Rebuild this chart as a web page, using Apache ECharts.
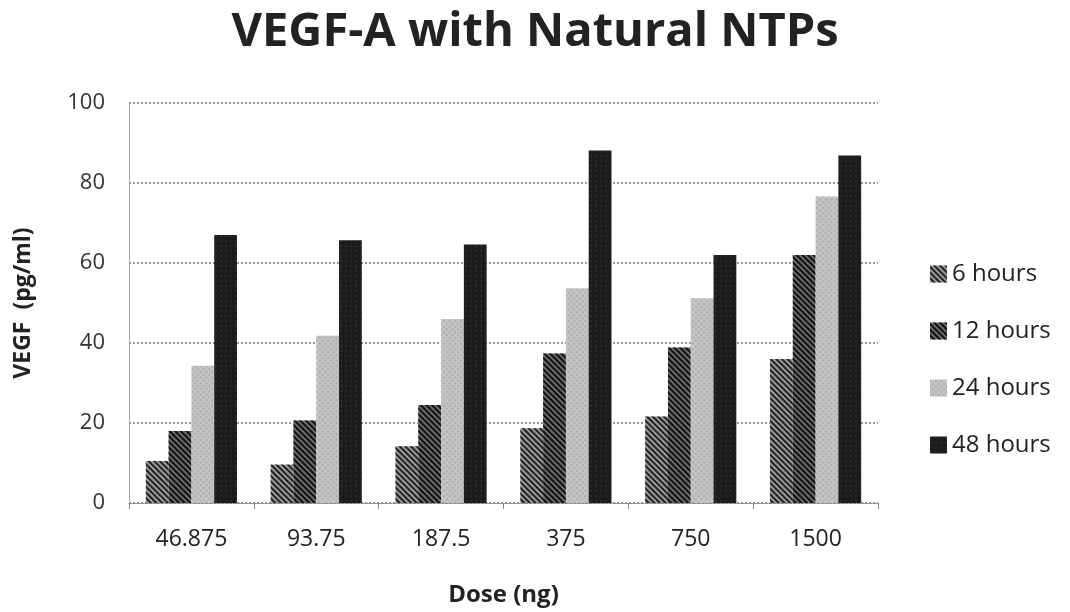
<!DOCTYPE html>
<html>
<head>
<meta charset="utf-8">
<script src="https://cdn.jsdelivr.net/npm/echarts@6/dist/echarts.min.js"></script>
<style>
  html, body {margin: 0; padding: 0; background: #fff;}
  #chart {width: 1070px; height: 612px;}
</style>
</head>
<body>
<div id="chart"></div>
<script>
var doses = ['46.875', '93.75', '187.5', '375', '750', '1500'];
var hours6 = [10.5, 9.6, 14.2, 18.7, 21.6, 36.0];
var hours12 = [18.0, 20.6, 24.5, 37.4, 38.9, 62.0];
var hours24 = [34.3, 41.8, 46.0, 53.7, 51.2, 76.6];
var hours48 = [67.0, 65.7, 64.6, 88.1, 62.0, 86.9];
var y_ticks = [0, 20, 40, 60, 80, 100];

var font = "'Open Sans', sans-serif";

function stripes(col, gap) {
    return {
        symbol: 'rect', symbolSize: 1, color: col,
        dashArrayX: [1, 0], dashArrayY: [2, gap], rotation: Math.PI / 4
    };
}

var series = [
    {name: '6 hours', data: hours6, color: '#9a9a9a', decal: stripes('#222', 2)},
    {name: '12 hours', data: hours12, color: '#6a6a6a', decal: stripes('#111', 2)},
    {name: '24 hours', data: hours24, color: '#c4c4c4', decal: {symbol: 'rect', symbolSize: 0.6, color: '#777', dashArrayX: [2, 2], dashArrayY: [2, 2], rotation: Math.PI / 4}},
    {name: '48 hours', data: hours48, color: '#1c1c1c', decal: {symbol: 'rect', symbolSize: 0.5, color: '#555', dashArrayX: [2, 3], dashArrayY: [2, 3], rotation: 0}}
].map(s => ({
    name: s.name, type: 'bar', data: s.data,
    barGap: '0%', barCategoryGap: '27%',
    itemStyle: {color: s.color, decal: s.decal}
}));

var chart = echarts.init(document.getElementById('chart'));
chart.setOption({
    animation: false,
    title: {
        text: 'VEGF-A with Natural NTPs', left: 'center', top: 4,
        textStyle: {fontFamily: font, fontSize: 47, fontWeight: 'bold', color: '#222'}
    },
    legend: {
        orient: 'vertical', left: 925, top: 257, itemGap: 33,
        itemWidth: 17, itemHeight: 17, icon: 'rect',
        textStyle: {fontFamily: font, fontSize: 24, color: '#222'},
        data: series.map(s => s.name)
    },
    grid: {left: 129, right: 192, top: 103, bottom: 108, containLabel: false},
    xAxis: {
        type: 'category', data: doses,
        name: 'Dose (ng)', nameLocation: 'middle', nameGap: 80,
        nameTextStyle: {fontFamily: font, fontSize: 24, fontWeight: 'bold', color: '#222'},
        axisLine: {lineStyle: {color: '#888', type: 'dotted'}},
        axisTick: {show: true, length: 6, lineStyle: {color: '#888'}},
        axisLabel: {fontFamily: font, fontSize: 23, color: '#222', margin: 25}
    },
    yAxis: {
        type: 'value', min: 0, max: 100, interval: 20,
        name: 'VEGF  (pg/ml)', nameLocation: 'middle', nameGap: 94,
        nameTextStyle: {fontFamily: font, fontSize: 23, fontWeight: 'bold', color: '#222'},
        axisLine: {show: true, lineStyle: {color: '#999', type: 'dotted'}},
        axisTick: {show: false},
        axisLabel: {fontFamily: font, fontSize: 22, color: '#333', margin: 24,
            formatter: v => (y_ticks.indexOf(v) >= 0 ? String(v) : '')},
        splitLine: {lineStyle: {color: '#999', type: 'dotted', width: 2}}
    },
    series: series
});
</script>
</body>
</html>
